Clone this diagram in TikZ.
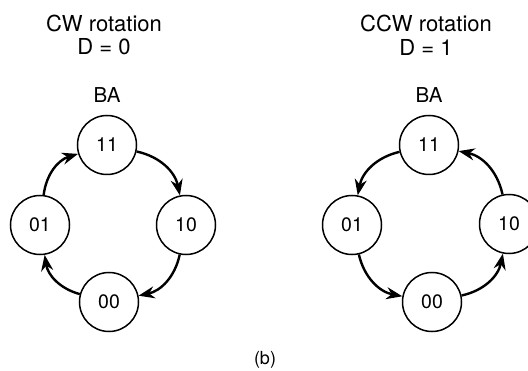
\documentclass[tikz,border=0pt]{standalone}
\usepackage{fontspec}
\setmainfont{TeX Gyre Heros}
\usetikzlibrary{arrows.meta}
\begin{document}
\begin{tikzpicture}[x=1pt,y=1pt,
  state/.style={circle,draw,line width=1.5pt,minimum size=59pt,inner sep=0pt,font=\fontsize{19.5}{22}\selectfont},
  title/.style={font=\fontsize{22}{24}\selectfont,align=center},
  lbl/.style={font=\fontsize{20.5}{22}\selectfont},
  tr/.style={line width=2.4pt,-{Stealth[length=16pt,width=12pt]}}]
\useasboundingbox (0,0) rectangle (528,370);
\clip (0,0) rectangle (528,370);
% left: CW
\node[title] (t1) at (104,347) {CW rotation};
\node[title] (d1) at (104,323) {D = 0};
\node[lbl] (ba1) at (107,275) {BA};
\node[state] (l11) at (107,225) {11};
\node[state] (l01) at (40,145) {01};
\node[state] (l10) at (186,145) {10};
\node[state] (l00) at (109,68) {00};
\draw[tr] (l11) to[bend left=33] (l10);
\draw[tr] (l10) to[bend left=33] (l00);
\draw[tr] (l00) to[bend left=33] (l01);
\draw[tr] (l01) to[bend left=33] (l11);
% right: CCW
\node[title] (t2) at (426,347) {CCW rotation};
\node[title] (d2) at (426,323) {D = 1};
\node[lbl] (ba2) at (429,275) {BA};
\node[state] (r11) at (429,225) {11};
\node[state] (r01) at (352,145) {01};
\node[state] (r10) at (509,146) {10};
\node[state] (r00) at (432,68) {00};
\draw[tr] (r11) to[bend right=33] (r01);
\draw[tr] (r01) to[bend right=33] (r00);
\draw[tr] (r00) to[bend right=33] (r10);
\draw[tr] (r10) to[bend right=33] (r11);
\node[font=\fontsize{18}{20}\selectfont] (b) at (265,10) {(b)};
\end{tikzpicture}
\end{document}
